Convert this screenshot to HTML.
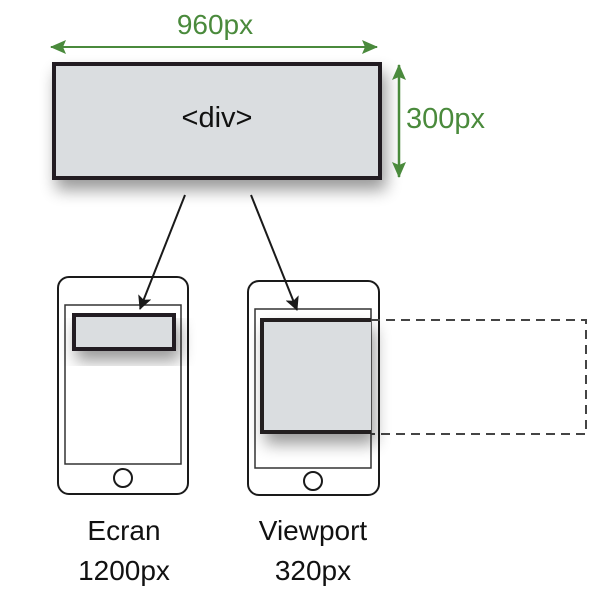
<!DOCTYPE html>
<html><head><meta charset="utf-8"><style>
body{margin:0;background:#fff;}
svg{display:block;}
text{font-family:"Liberation Sans",sans-serif;}
</style></head><body>
<svg width="612" height="601" viewBox="0 0 612 601" xmlns="http://www.w3.org/2000/svg">
<defs>
<filter id="sh" x="-20%" y="-20%" width="150%" height="170%"><feGaussianBlur in="SourceAlpha" stdDeviation="8"/><feOffset dx="4" dy="10"/><feComponentTransfer><feFuncA type="linear" slope="0.4"/></feComponentTransfer><feMerge><feMergeNode/><feMergeNode in="SourceGraphic"/></feMerge></filter>
<marker id="ga" markerWidth="16" markerHeight="14" refX="15" refY="7" orient="auto-start-reverse" markerUnits="userSpaceOnUse"><path d="M0,0 L16,7 L0,14 L3,7 Z" fill="#4a8a3c"/></marker>
<marker id="ka" markerWidth="14" markerHeight="14" refX="13" refY="7" orient="auto" markerUnits="userSpaceOnUse"><path d="M0,0 L14,7 L0,14 L3,7 Z" fill="#1a1a1a"/></marker>
</defs>
<!-- top -->
<text x="215" y="34" font-size="28" fill="#4a8a3c" text-anchor="middle">960px</text>
<line x1="51" y1="47" x2="377" y2="47" stroke="#4a8a3c" stroke-width="2" marker-start="url(#ga)" marker-end="url(#ga)" />
<rect x="54" y="64" width="326" height="114" fill="#dadde0" stroke="#231f20" stroke-width="4" filter="url(#sh)"/>
<text x="217" y="127" font-size="29" fill="#111" text-anchor="middle">&lt;div&gt;</text>
<line x1="399" y1="65" x2="399" y2="177" stroke="#4a8a3c" stroke-width="2.5" marker-start="url(#ga)" marker-end="url(#ga)"/>
<text x="406" y="128" font-size="29" fill="#4a8a3c">300px</text>
<!-- left phone -->
<rect x="58" y="277" width="130" height="217" rx="11" fill="#fff" stroke="#1a1a1a" stroke-width="2"/>
<rect x="65" y="305" width="116" height="159" fill="#fff" stroke="#333" stroke-width="1.5"/>
<circle cx="123" cy="478" r="9" fill="#fff" stroke="#1a1a1a" stroke-width="2"/>
<rect x="74" y="315" width="100" height="34" fill="#dadde0" stroke="#231f20" stroke-width="4" filter="url(#sh)"/>
<!-- right phone -->
<rect x="248" y="281" width="131" height="214" rx="11" fill="#fff" stroke="#1a1a1a" stroke-width="2"/>
<rect x="255" y="309" width="116" height="159" fill="#fff" stroke="#333" stroke-width="1.5"/>
<circle cx="313" cy="481" r="9" fill="#fff" stroke="#1a1a1a" stroke-width="2"/>
<path d="M371 320 H586 V434 H371" fill="none" stroke="#444" stroke-width="2" stroke-dasharray="9,6"/>
<g filter="url(#sh)"><rect x="261" y="318" width="110" height="116" fill="#dadde0"/></g>
<path d="M371 320 H262 V432 H371" fill="none" stroke="#231f20" stroke-width="4"/>
<!-- arrows -->
<line x1="185" y1="195" x2="140" y2="309" stroke="#1a1a1a" stroke-width="2" marker-end="url(#ka)"/>
<line x1="251" y1="195" x2="297" y2="310" stroke="#1a1a1a" stroke-width="2" marker-end="url(#ka)"/>
<!-- labels -->
<text x="124" y="540" font-size="28" fill="#111" text-anchor="middle">Ecran</text>
<text x="124" y="580" font-size="28" fill="#111" text-anchor="middle">1200px</text>
<text x="313" y="540" font-size="28" fill="#111" text-anchor="middle">Viewport</text>
<text x="313" y="580" font-size="28" fill="#111" text-anchor="middle">320px</text>
</svg>
</body></html>
